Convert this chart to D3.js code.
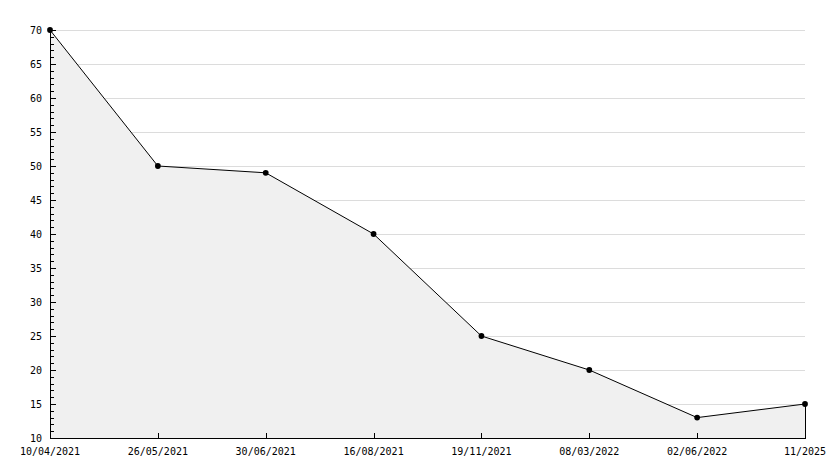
<!DOCTYPE html>
<html>
<head>
<meta charset="UTF-8">
<script src="https://d3js.org/d3.v7.min.js"></script>
<style>
  body { margin: 0; background: #fff; }
  svg { display: block; }
  text { font-family: "DejaVu Sans Mono", monospace; font-size: 10px; fill: #000; }
</style>
</head>
<body>
<script>
  const dates = ["10/04/2021", "26/05/2021", "30/06/2021", "16/08/2021", "19/11/2021", "08/03/2022", "02/06/2022", "11/2025"];
  const values = [70, 50, 49, 40, 25, 20, 13, 15];
  const yTicks = [10, 15, 20, 25, 30, 35, 40, 45, 50, 55, 60, 65, 70];

  const width = 834, height = 468;
  const plotLeft = 50, plotRight = 805, plotTop = 30, plotBottom = 438;

  const svg = d3.select("body").append("svg")
    .attr("width", width)
    .attr("height", height);

  const x = d3.scalePoint().domain(dates).range([plotLeft, plotRight]);
  const y = d3.scaleLinear().domain([10, 70]).range([plotBottom, plotTop]);

  // grid
  svg.append("g").selectAll("line")
    .data(yTicks.slice(1))
    .enter().append("line")
    .attr("x1", plotLeft).attr("x2", plotRight)
    .attr("y1", d => Math.round(y(d)) + 0.5).attr("y2", d => Math.round(y(d)) + 0.5)
    .attr("stroke", "#dcdcdc");

  const pts = dates.map((d, i) => [x(d), y(values[i])]);

  // filled area
  const area = d3.area()
    .x(d => d[0])
    .y0(y(10))
    .y1(d => d[1]);
  svg.append("path")
    .datum(pts)
    .attr("d", area)
    .attr("fill", "#f0f0f0");

  svg.append("path")
    .datum(pts)
    .attr("d", d3.line())
    .attr("fill", "none")
    .attr("stroke", "#000")
    .attr("stroke-width", 1);

  // right edge of the fill
  svg.append("line")
    .attr("x1", plotRight + 0.5).attr("x2", plotRight + 0.5)
    .attr("y1", y(values[values.length - 1])).attr("y2", plotBottom)
    .attr("stroke", "#000");

  // y axis with minor ticks
  const yAxis = svg.append("g");
  yAxis.append("line")
    .attr("x1", plotLeft + 0.5).attr("x2", plotLeft + 0.5)
    .attr("y1", plotTop).attr("y2", plotBottom)
    .attr("stroke", "#000");
  yAxis.selectAll(".minor")
    .data(d3.range(10, 71, 1))
    .enter().append("line")
    .attr("x1", plotLeft).attr("x2", d => plotLeft + (d % 5 === 0 ? 6 : 4))
    .attr("y1", d => Math.round(y(d)) + 0.5).attr("y2", d => Math.round(y(d)) + 0.5)
    .attr("stroke", "#000");
  yAxis.selectAll("text")
    .data(yTicks)
    .enter().append("text")
    .attr("x", plotLeft - 8)
    .attr("y", d => y(d) + 4)
    .attr("text-anchor", "end")
    .text(d => d);

  // x axis
  const xAxis = svg.append("g");
  xAxis.append("line")
    .attr("x1", plotLeft).attr("x2", plotRight + 1)
    .attr("y1", plotBottom + 0.5).attr("y2", plotBottom + 0.5)
    .attr("stroke", "#000");
  xAxis.selectAll(".tick")
    .data(dates)
    .enter().append("line")
    .attr("x1", d => Math.round(x(d)) + 0.5).attr("x2", d => Math.round(x(d)) + 0.5)
    .attr("y1", plotBottom).attr("y2", plotBottom - 5)
    .attr("stroke", "#000");
  xAxis.selectAll("text")
    .data(dates)
    .enter().append("text")
    .attr("x", d => x(d))
    .attr("y", plotBottom + 17)
    .attr("text-anchor", "middle")
    .text(d => d);

  // markers
  svg.append("g").selectAll("path")
    .data(pts)
    .enter().append("path")
    .attr("transform", d => `translate(${d[0]},${d[1]})`)
    .attr("d", d3.symbol().type(d3.symbolCircle).size(26))
    .attr("fill", "#000");
</script>
</body>
</html>
